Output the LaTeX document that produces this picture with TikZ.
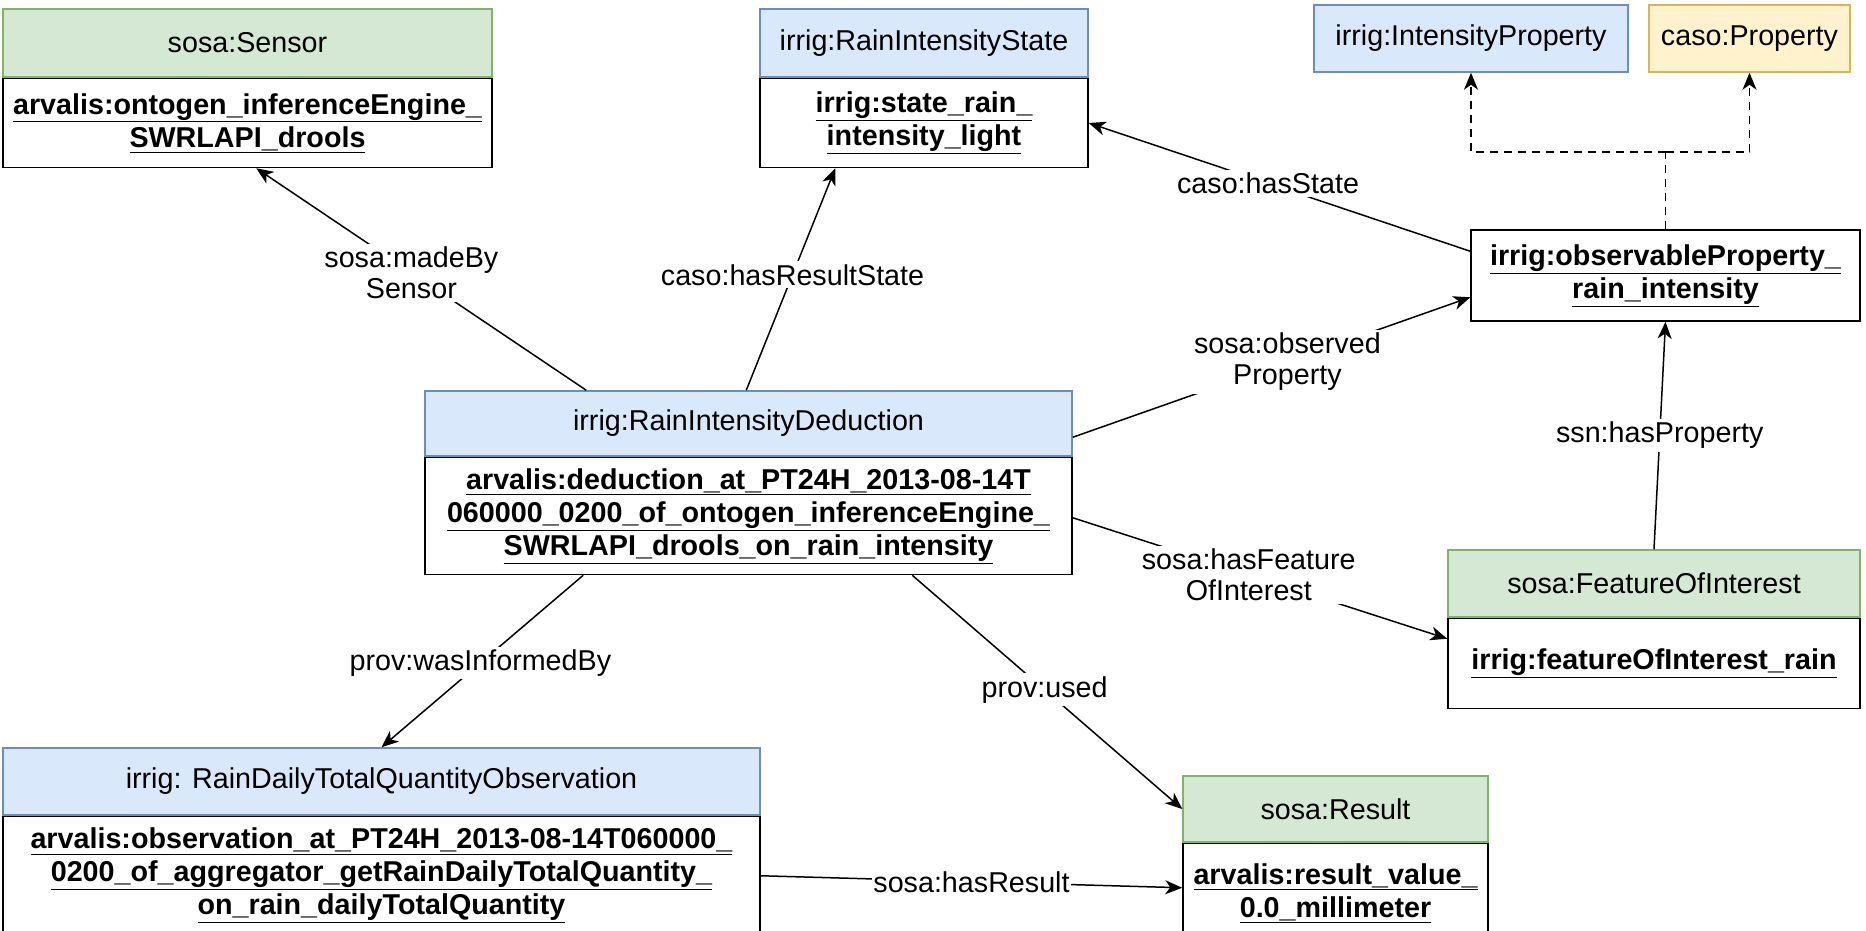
\documentclass[tikz,border=0pt]{standalone}
\usepackage{fontspec}
\setmainfont{Liberation Sans}
\usepackage{xcolor}
\usepackage{tikz}
\usetikzlibrary{positioning, arrows.meta, calc}
\definecolor{blueface}{HTML}{DAE8FC}
\definecolor{blueline}{HTML}{6C8EBF}
\definecolor{greenface}{HTML}{D5E8D4}
\definecolor{greenline}{HTML}{82B366}
\definecolor{yellowface}{HTML}{FFF2CC}
\definecolor{yellowline}{HTML}{D6B656}
\newcommand{\undl}[1]{\underline{#1}}
\tikzstyle{boxbase}=[rectangle, inner sep=0pt, align=center, line width=1.5pt,
font=\fontsize{28.7}{32}\selectfont]
\tikzstyle{bluehead}=[boxbase, fill=blueface, draw=blueline]
\tikzstyle{greenhead}=[boxbase, fill=greenface, draw=greenline]
\tikzstyle{yellowhead}=[boxbase, fill=yellowface, draw=yellowline]
\tikzstyle{indiv}=[boxbase, fill=white, draw=black, font=\fontsize{28.7}{33}\selectfont\bfseries]
\tikzstyle{relarrow}=[->, line width=1.5pt]
\tikzstyle{rellabel}=[fill=white, inner sep=3pt, align=center, font=\fontsize{28.7}{31}\selectfont]
\tikzstyle{dashedge}=[dash pattern=on 8pt off 6pt, line width=1.5pt]

\begin{document}
\begin{tikzpicture}[x=1pt, y=-1pt, >={Stealth[length=17pt, width=14pt, inset=5pt]}]
\useasboundingbox (0,0) rectangle (1866,931);

\node[greenhead, minimum width=489pt, minimum height=68pt] (sensorHead) at (247.5,43) {sosa:Sensor};
\node[indiv, minimum width=489pt, minimum height=89pt, below=0pt of sensorHead] (sensor) {
  \undl{arvalis:ontogen\_inferenceEngine\_}\\
  \undl{SWRLAPI\_drools}};

\node[bluehead, minimum width=328pt, minimum height=68pt] (stateHead) at (924,43) {irrig:RainIntensityState};
\node[indiv, minimum width=328pt, minimum height=89pt, below=0pt of stateHead] (state) {
  \undl{irrig:state\_rain\_}\\
  \undl{intensity\_light}};

\node[bluehead, minimum width=314pt, minimum height=67pt] (intProp) at (1471,38.5) {irrig:IntensityProperty};
\node[yellowhead, minimum width=201pt, minimum height=67pt] (casoProp) at (1749.5,38.5) {caso:Property};

\node[indiv, minimum width=389pt, minimum height=91pt] (obsProp) at (1665.5,275.5) {
  \undl{irrig:observableProperty\_}\\
  \undl{rain\_intensity}};

\node[bluehead, minimum width=647pt, minimum height=65pt] (dedHead) at (748.5,423.5) {irrig:RainIntensityDeduction};
\node[indiv, minimum width=647pt, minimum height=117pt, below=0pt of dedHead] (ded) {
  \undl{arvalis:deduction\_at\_PT24H\_2013-08-14T}\\
  \undl{060000\_0200\_of\_ontogen\_inferenceEngine\_}\\
  \undl{SWRLAPI\_drools\_on\_rain\_intensity}};

\node[greenhead, minimum width=412pt, minimum height=67pt] (foiHead) at (1654,583.5) {sosa:FeatureOfInterest};
\node[indiv, minimum width=412pt, minimum height=90pt, below=0pt of foiHead] (foi) {
  \undl{irrig:featureOfInterest\_rain}};

\node[bluehead, minimum width=757pt, minimum height=67pt] (obsHead) at (381.5,781.5) {irrig: RainDailyTotalQuantityObservation};
\node[indiv, minimum width=757pt, minimum height=118pt, below=0pt of obsHead] (obs) {
  \undl{arvalis:observation\_at\_PT24H\_2013-08-14T060000\_}\\
  \undl{0200\_of\_aggregator\_getRainDailyTotalQuantity\_}\\
  \undl{on\_rain\_dailyTotalQuantity}};

\node[greenhead, minimum width=305pt, minimum height=66pt] (resHead) at (1335.5,809) {sosa:Result};
\node[indiv, minimum width=305pt, minimum height=100pt, below=0pt of resHead] (res) {
  \undl{arvalis:result\_value\_}\\
  \undl{0.0\_millimeter}};

\draw[relarrow] ($(dedHead.north west)+(162,0)$) -- node[rellabel, pos=0.53] {sosa:madeBy\\Sensor} ($(sensor.south west)+(254,0)$);
\draw[relarrow] ($(dedHead.north west)+(322,0)$) -- node[rellabel, pos=0.52] {caso:hasResultState} ($(state.south west)+(76,0)$);
\draw[relarrow] ($(obsProp.north west)+(0,22)$) -- node[rellabel, pos=0.53] {caso:hasState} (state.east);
\draw[relarrow] ($(dedHead.north east)+(0,47)$) -- node[rellabel, pos=0.54] {sosa:observed\\Property} ($(obsProp.north west)+(0,68)$);
\draw[relarrow] ($(ded.north east)+(0,61)$) -- node[rellabel, pos=0.47] {sosa:hasFeature\\OfInterest} ($(foi.north west)+(0,21)$);
\draw[relarrow] (foiHead.north) -- node[rellabel] {ssn:hasProperty} (obsProp.south);
\draw[relarrow] ($(ded.south west)+(159,0)$) -- node[rellabel, pos=0.51] {prov:wasInformedBy} (obsHead.north);
\draw[relarrow] ($(ded.south west)+(488,0)$) -- node[rellabel, pos=0.49] {prov:used} (resHead.west);
\draw[relarrow] ($(obs.north east)+(0,60)$) -- node[rellabel, inner sep=1pt] {sosa:hasResult} ($(res.north west)+(0,45)$);

\coordinate (fork) at ($(obsProp.north)+(0,-77)$);
\draw[dashedge] (obsProp.north) -- (fork);
\draw[dashedge, ->] (fork) -| (intProp.south);
\draw[dashedge, ->] (fork) -| (casoProp.south);
\end{tikzpicture}
\end{document}
